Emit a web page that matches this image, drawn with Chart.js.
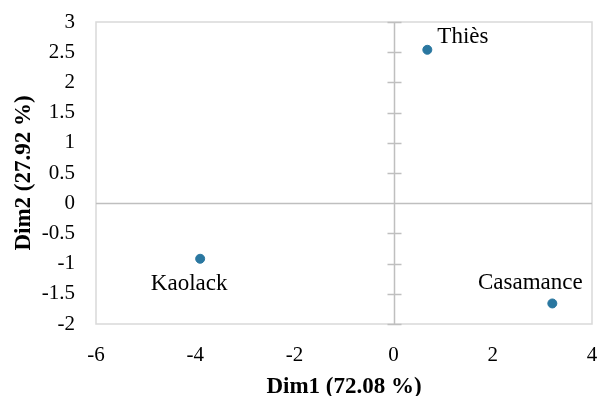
<!DOCTYPE html>
<html>
<head>
<meta charset="utf-8">
<script src="https://cdn.jsdelivr.net/npm/chart.js@4/dist/chart.umd.min.js"></script>
<style>
  html, body { margin: 0; padding: 0; background: #fff; }
  #wrap { width: 598px; height: 396px; }
</style>
</head>
<body>
<div id="wrap"><canvas id="pca-chart"></canvas></div>
<script>
// regions projected on the first two dimensions
var regions = ['Thiès', 'Kaolack', 'Casamance'],
    dim1 = [0.68, -3.90, 3.20],
    dim2 = [2.54, -0.92, -1.66];

var xTitle = 'Dim1 (72.08 %)',
    yTitle = 'Dim2 (27.92 %)';

var points = regions.map(function(name, i) {
  return { x: dim1[i], y: dim2[i], name: name };
});

var serif = '"Liberation Serif", "Times New Roman", serif';

// where each name sits relative to its dot (px)
var labelPlace = [
  { dx: 10, dy: -13, align: 'left' },
  { dx: -11, dy: 25, align: 'center' },
  { dx: -22, dy: -21, align: 'center' }
];

// frame, axes crossing at zero and the little ticks on the vertical one
var axesPlugin = {
  id: 'axesPlugin',
  beforeDatasetsDraw: function(chart) {
    var c = chart.ctx, a = chart.chartArea,
        xs = chart.scales.x, ys = chart.scales.y;
    c.save();
    c.strokeStyle = '#d9d9d9';
    c.lineWidth = 1.5;
    c.strokeRect(a.left, a.top, a.right - a.left, a.bottom - a.top);

    var x0 = Math.round(xs.getPixelForValue(0)) + 0.5,
        y0 = Math.round(ys.getPixelForValue(0)) + 0.5;
    c.strokeStyle = '#bfbfbf';
    c.lineWidth = 1.5;
    c.beginPath();
    c.moveTo(a.left, y0); c.lineTo(a.right, y0);
    c.moveTo(x0, a.top); c.lineTo(x0, a.bottom);
    ys.ticks.forEach(function(t) {
      var yy = Math.round(ys.getPixelForValue(t.value)) + 0.5;
      c.moveTo(x0 - 7, yy); c.lineTo(x0 + 7, yy);
    });
    c.stroke();
    c.restore();
  },
  afterDatasetsDraw: function(chart) {
    var c = chart.ctx,
        meta = chart.getDatasetMeta(0);
    c.save();
    c.fillStyle = '#000';
    c.font = '23px ' + serif;
    c.textBaseline = 'middle';
    meta.data.forEach(function(el, i) {
      var p = labelPlace[i];
      c.textAlign = p.align;
      c.fillText(regions[i], el.x + p.dx, el.y + p.dy);
    });
    c.restore();
  }
};

function plainNumber(v) {
  return String(Number(v.toFixed(2)));
}

var ctx = document.getElementById('pca-chart').getContext('2d'),
    pcaChart = new Chart(ctx, {
      type: 'scatter',
      data: {
        datasets: [{
          data: points,
          backgroundColor: '#2a77a0',
          borderColor: '#2a77a0',
          pointRadius: 4.5,
          pointHoverRadius: 4.5
        }]
      },
      options: {
        responsive: true,
        maintainAspectRatio: false,
        animation: false,
        events: [],
        layout: { padding: { left: 0, right: 6, top: 22, bottom: 0 } },
        plugins: {
          legend: { display: false },
          tooltip: { enabled: false }
        },
        scales: {
          x: {
            type: 'linear',
            min: -6, max: 4,
            grid: { display: false },
            border: { display: false },
            ticks: { stepSize: 2, padding: 11, color: '#000', callback: plainNumber,
                     font: { family: serif, size: 21 } },
            title: { display: true, text: xTitle, color: '#000', padding: 0,
                     font: { family: serif, size: 23, weight: 'bold', lineHeight: 0.8 } },
            afterFit: function(s) { s.height = 72; s.paddingLeft = 0; s.paddingRight = 0; }
          },
          y: {
            type: 'linear',
            min: -2, max: 3,
            grid: { display: false },
            border: { display: false },
            ticks: { stepSize: 0.5, padding: 13, color: '#000', callback: plainNumber,
                     font: { family: serif, size: 21 } },
            title: { display: true, text: yTitle, color: '#000', padding: { top: 13, bottom: 0 },
                     font: { family: serif, size: 23, weight: 'bold', lineHeight: 1 } },
            afterFit: function(s) { s.width = 96; s.paddingTop = 0; s.paddingBottom = 0; }
          }
        }
      },
      plugins: [axesPlugin]
    });
</script>
</body>
</html>
